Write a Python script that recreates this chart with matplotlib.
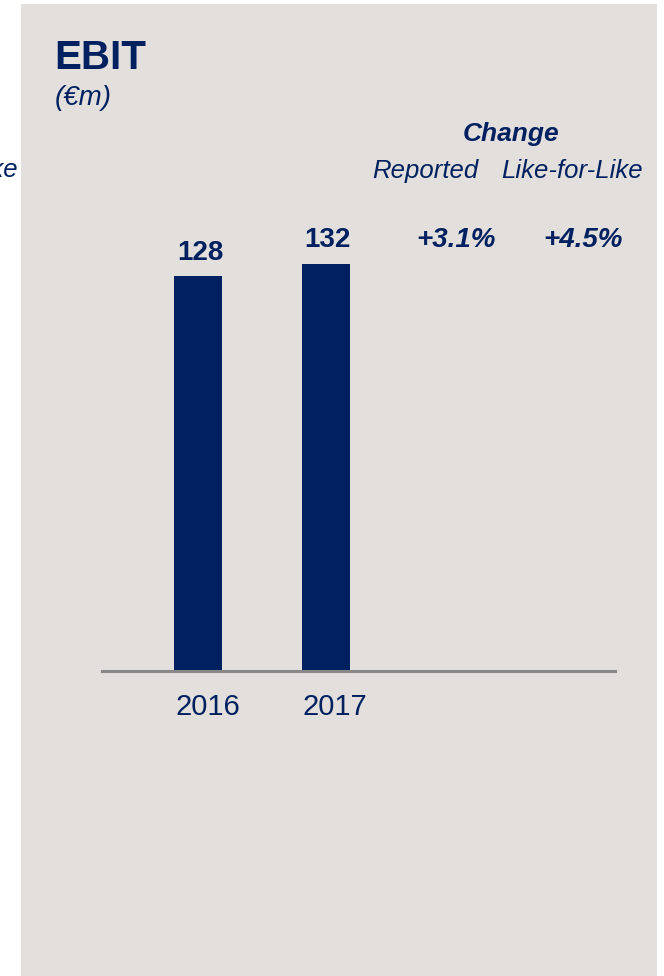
import matplotlib.pyplot as plt
from matplotlib.patches import Rectangle

# EBIT panel: two yearly bars plus reported / like-for-like change

years = ["2016", "2017"]
ebit = [128, 132]
change_headers = ["Reported", "Like-for-Like"]
change_values = ["+3.1%", "+4.5%"]

NAVY = "#002060"
PANEL = "#E2DFDC"
RULE = "#888888"
FONT = "Liberation Sans"

W, H = 664, 976


def fx(px):
    return px / W


def fy(py):
    return 1 - py / H


fig = plt.figure(figsize=(W / 100, H / 100), dpi=100)
fig.patch.set_facecolor("white")

# grey card behind the chart (negative zorder keeps it under the axes)
fig.patches.append(
    Rectangle((fx(21), 0), fx(657) - fx(21), fy(4), transform=fig.transFigure,
              facecolor=PANEL, edgecolor="none", zorder=-1)
)

# tail of the neighbouring panel's header, cut off at the left edge
fig.text(fx(18), fy(177), change_headers[1], ha="right", va="baseline",
         fontsize=18.5, style="italic", color=NAVY, family=FONT)

fig.text(fx(54), fy(69), "EBIT", ha="left", va="baseline",
         fontsize=29, weight="bold", color=NAVY, family=FONT)
fig.text(fx(55), fy(105), "(€m)", ha="left", va="baseline",
         fontsize=20, style="italic", color=NAVY, family=FONT)

fig.text(fx(511), fy(141), "Change", ha="center", va="baseline",
         fontsize=19, weight="bold", style="italic", color=NAVY, family=FONT)
fig.text(fx(372), fy(178), change_headers[0], ha="left", va="baseline",
         fontsize=18.5, style="italic", color=NAVY, family=FONT)
fig.text(fx(643), fy(178), change_headers[1], ha="right", va="baseline",
         fontsize=18.5, style="italic", color=NAVY, family=FONT)

# bar area: baseline rule runs from x=102 to x=615
ax = fig.add_axes([fx(102), fy(671), fx(615) - fx(102), fy(200) - fy(671)])
ax.set_facecolor("none")
ax.axis("off")

slot = 127.5  # px between slot centres
left_px, right_px, first_px = 102, 615, 198
ax.set_xlim(-(first_px - left_px) / slot, (right_px - first_px) / slot)
ax.set_ylim(0, 132 * 471 / 407)

xs = list(range(len(years)))
ax.bar(xs, ebit, width=48 / slot, color=NAVY, zorder=2)
ax.axhline(0, color=RULE, linewidth=2.2, zorder=3, clip_on=False)

for x, v, yr in zip(xs, ebit, years):
    ax.annotate(f"{v}", xy=(x, v), xytext=(1.5, 12), textcoords="offset points",
                ha="center", va="baseline", fontsize=20, weight="bold",
                color=NAVY, family=FONT)
    ax.annotate(yr, xy=(x, 0), xytext=(7, -32), textcoords="offset points",
                ha="center", va="baseline", fontsize=21, color=NAVY,
                family=FONT)

# change figures sit in the next two slots, level with the 2017 label
for i, txt in enumerate(change_values):
    ax.annotate(txt, xy=(2.02 + i, ebit[1]), xytext=(0, 12),
                textcoords="offset points", ha="center", va="baseline",
                fontsize=20, weight="bold", style="italic", color=NAVY,
                family=FONT, annotation_clip=False)

fig.savefig("out.png", dpi=100, facecolor=fig.get_facecolor())
